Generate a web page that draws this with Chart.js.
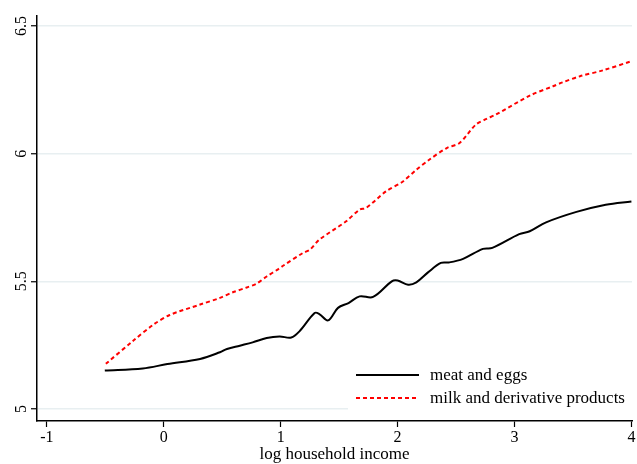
<!DOCTYPE html>
<html>
<head>
<meta charset="utf-8">
<script src="https://cdn.jsdelivr.net/npm/chart.js@4/dist/chart.umd.min.js"></script>
<style>
  html, body { margin: 0; padding: 0; background: #ffffff; }
  #wrap { width: 637px; height: 464px; position: relative; }
</style>
</head>
<body>
<div id="wrap"><canvas id="c" width="637" height="464"></canvas></div>
<script>
// ---- data ----
const seriesNames = ["meat and eggs", "milk and derivative products"];
const xTicks = [-1, 0, 1, 2, 3, 4];
const yTicks = [5, 5.5, 6, 6.5];
const xAxisTitle = "log household income";

const meatIncome = [-0.505, -0.18, 0.03, 0.31, 0.48, 0.54, 0.65, 0.76, 0.88, 0.99, 1.09, 1.16, 1.29, 1.33, 1.405, 1.49, 1.58, 1.675, 1.79, 1.95, 2.0, 2.09, 2.16, 2.26, 2.37, 2.44, 2.56, 2.73, 2.81, 3.04, 3.13, 3.27, 3.53, 3.78, 4.0];
const meatValues = [5.151, 5.159, 5.176, 5.196, 5.222, 5.235, 5.248, 5.261, 5.278, 5.284, 5.280, 5.304, 5.376, 5.372, 5.347, 5.396, 5.415, 5.441, 5.439, 5.500, 5.503, 5.487, 5.496, 5.535, 5.572, 5.574, 5.588, 5.627, 5.631, 5.685, 5.696, 5.731, 5.772, 5.800, 5.813];

const milkIncome = [-0.496, -0.26, -0.09, 0.05, 0.31, 0.48, 0.59, 0.71, 0.79, 0.88, 0.98, 1.02, 1.19, 1.25, 1.33, 1.56, 1.675, 1.73, 1.90, 2.045, 2.16, 2.27, 2.42, 2.53, 2.67, 2.76, 2.84, 3.13, 3.33, 3.41, 3.56, 3.755, 4.0];
const milkValues = [5.177, 5.268, 5.330, 5.368, 5.409, 5.435, 5.457, 5.476, 5.490, 5.519, 5.548, 5.561, 5.611, 5.624, 5.663, 5.735, 5.781, 5.787, 5.852, 5.891, 5.937, 5.976, 6.022, 6.042, 6.114, 6.136, 6.153, 6.227, 6.264, 6.279, 6.303, 6.326, 6.362];

const toPoints = (xs, ys) => xs.map((x, i) => ({ x: x, y: ys[i] }));

const SERIF = "'Liberation Serif', 'DejaVu Serif', serif";

// y tick labels drawn rotated (read bottom-to-top)
const yLabelPlugin = {
  id: 'yLabels',
  afterDraw(chart) {
    const ctx = chart.ctx;
    const ys = chart.scales.y;
    ctx.save();
    ctx.font = "16px " + SERIF;
    ctx.fillStyle = '#000';
    ctx.textAlign = 'center';
    ctx.textBaseline = 'middle';
    yTicks.forEach(v => {
      const py = ys.getPixelForValue(v);
      ctx.save();
      ctx.translate(22, py);
      ctx.rotate(-Math.PI / 2);
      ctx.fillText(String(v), 0, 0);
      ctx.restore();
    });
    ctx.restore();
  }
};

// legend box at lower right of plot
const legendPlugin = {
  id: 'boxLegend',
  afterDatasetsDraw(chart) {
    const ctx = chart.ctx;
    ctx.save();
    ctx.fillStyle = '#ffffff';
    ctx.fillRect(348, 356, 289, 60);
    const rows = [375, 398];
    chart.data.datasets.forEach((ds, i) => {
      const y = rows[i];
      ctx.beginPath();
      ctx.strokeStyle = ds.borderColor;
      ctx.lineWidth = 2;
      ctx.setLineDash(ds.borderDash || []);
      ctx.moveTo(356, y);
      ctx.lineTo(419, y);
      ctx.stroke();
      ctx.setLineDash([]);
      ctx.fillStyle = '#000';
      ctx.font = "17px " + SERIF;
      ctx.textAlign = 'left';
      ctx.textBaseline = 'middle';
      ctx.fillText(ds.label, 430, y + 1);
    });
    ctx.restore();
  }
};

new Chart(document.getElementById('c'), {
  type: 'line',
  data: {
    datasets: [
      {
        label: seriesNames[0],
        data: toPoints(meatIncome, meatValues),
        borderColor: '#000000',
        borderWidth: 2,
        pointRadius: 0,
        tension: 0.35,
        fill: false
      },
      {
        label: seriesNames[1],
        data: toPoints(milkIncome, milkValues),
        borderColor: '#ff0000',
        borderWidth: 2,
        borderDash: [4, 3],
        pointRadius: 0,
        tension: 0.3,
        fill: false
      }
    ]
  },
  options: {
    responsive: false,
    animation: false,
    devicePixelRatio: 1,
    layout: { padding: { top: 16, right: 5, left: 0, bottom: 0 } },
    plugins: {
      legend: { display: false },
      tooltip: { enabled: false }
    },
    scales: {
      x: {
        type: 'linear',
        min: -1.085,
        max: 4.005,
        afterBuildTicks: (s) => { s.ticks = xTicks.map(v => ({ value: v })); },
        afterFit: (s) => { s.height = 43; },
        grid: { drawOnChartArea: false, drawTicks: true, tickLength: 6, tickColor: '#000', tickWidth: 1.2 },
        border: { color: '#000', width: 1.5 },
        ticks: {
          color: '#000',
          font: { family: SERIF, size: 16 },
          padding: 1,
          maxRotation: 0,
          autoSkip: false,
          callback: (v) => String(v)
        },
        title: {
          display: true,
          text: xAxisTitle,
          color: '#000',
          font: { family: SERIF, size: 17 },
          padding: { top: 0, bottom: -1 }
        }
      },
      y: {
        type: 'linear',
        min: 4.953,
        max: 6.539,
        afterBuildTicks: (s) => { s.ticks = yTicks.map(v => ({ value: v })); },
        afterFit: (s) => { s.width = 37; },
        grid: { color: '#e8eff1', lineWidth: 1.5, drawTicks: true, tickLength: 6, tickColor: '#000', tickWidth: 1.2 },
        border: { color: '#000', width: 1.5 },
        ticks: { display: false }
      }
    }
  },
  plugins: [yLabelPlugin, legendPlugin]
});
</script>
</body>
</html>
